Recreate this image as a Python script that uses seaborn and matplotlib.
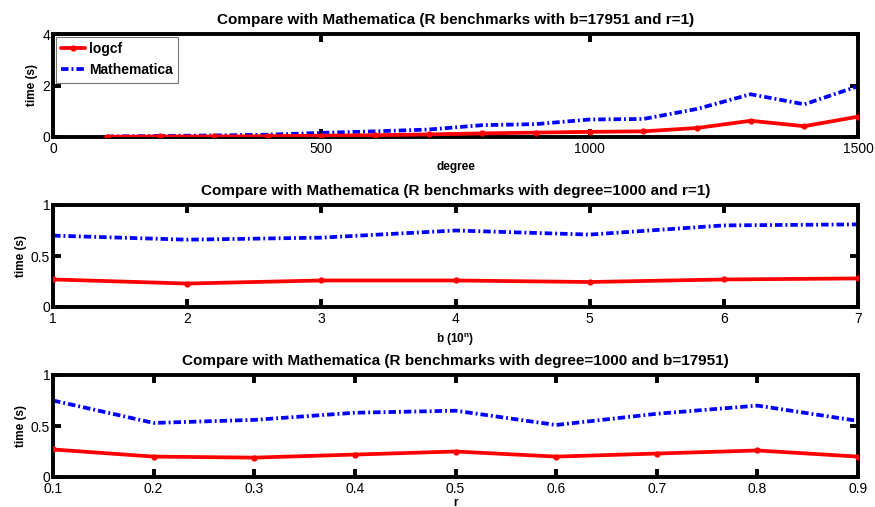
import numpy as np
import pandas as pd
import seaborn as sns
import matplotlib.pyplot as plt

# data
degree = [100, 200, 300, 400, 500, 600, 700, 800, 900, 1000, 1100, 1200, 1300, 1400, 1500]
logcf_deg = [0.01, 0.02, 0.02, 0.03, 0.05, 0.07, 0.10, 0.14, 0.17, 0.20, 0.22, 0.35, 0.63, 0.42, 0.79]
math_deg = [0.02, 0.04, 0.06, 0.09, 0.16, 0.22, 0.29, 0.46, 0.50, 0.68, 0.70, 1.09, 1.66, 1.27, 1.97]

b_exp = [1, 2, 3, 4, 5, 6, 7]
logcf_b = [0.27, 0.23, 0.26, 0.26, 0.245, 0.27, 0.28]
math_b = [0.70, 0.66, 0.68, 0.75, 0.71, 0.80, 0.81]

r_val = [0.1, 0.2, 0.3, 0.4, 0.5, 0.6, 0.7, 0.8, 0.9]
logcf_r = [0.27, 0.20, 0.19, 0.22, 0.25, 0.20, 0.23, 0.26, 0.20]
math_r = [0.75, 0.53, 0.56, 0.63, 0.65, 0.51, 0.62, 0.70, 0.55]

titles = ["Compare with Mathematica (R benchmarks with b=17951 and r=1)",
          "Compare with Mathematica (R benchmarks with degree=1000 and r=1)",
          "Compare with Mathematica (R benchmarks with degree=1000 and b=17951)"]
xlabels = ["degree", "b (10$^{\\mathregular{n}}$)", "r"]

sns.set_style("white")
plt.rcParams['font.family'] = ['Liberation Sans', 'DejaVu Sans']
plt.rcParams['text.color'] = 'black'
plt.rcParams['axes.labelcolor'] = 'black'

fig = plt.figure(figsize=(8.75, 5.07), dpi=100)
W, H = 875.0, 507.0
boxes = [(34, 137), (205, 307), (375, 477)]
left, right = 53, 858

panels = [
    (degree, logcf_deg, math_deg, (0, 1500), (0, 4), [0, 500, 1000, 1500], [0, 2, 4]),
    (b_exp, logcf_b, math_b, (1, 7), (0, 1), b_exp, [0, 0.5, 1]),
    (r_val, logcf_r, math_r, (0.1, 0.9), (0, 1), r_val, [0, 0.5, 1]),
]

for i, (x, y1, y2, xl, yl, xt, yt) in enumerate(panels):
    top, bot = boxes[i]
    ax = fig.add_axes([left / W, 1 - bot / H, (right - left) / W, (bot - top) / H])
    df = pd.DataFrame({"x": x, "logcf": y1, "Mathematica": y2})
    sns.lineplot(data=df, x="x", y="logcf", ax=ax, color="#ff0000", lw=2.7,
                 marker="o", markersize=4.5, markeredgewidth=0, label="logcf", zorder=3)
    sns.lineplot(data=df, x="x", y="Mathematica", ax=ax, color="#0000ff", lw=2.7,
                 dashes=False, label="Mathematica", zorder=2)
    ax.lines[1].set_dashes((2.0, 0.8, 0.5, 0.8))
    ax.set_xlim(*xl)
    ax.set_ylim(*yl)
    ax.set_xticks(xt)
    ax.set_xticklabels([str(v) for v in xt])
    ax.set_yticks(yt)
    ax.set_yticklabels([("%g" % v) for v in yt])
    for s in ax.spines.values():
        s.set_linewidth(2.8)
        s.set_color("black")
        s.set_visible(True)
    ax.tick_params(direction="in", length=5.5, width=2.8, top=True, right=True,
                   bottom=True, left=True, labelsize=10, colors="black")
    ax.tick_params(axis="x", pad=3.5)
    ax.tick_params(axis="y", pad=2)
    ax.set_title(titles[i], fontsize=11, fontweight="bold", pad=7, color="black")
    ax.set_xlabel(xlabels[i], fontsize=8.5, fontweight="bold", labelpad=(1 if i == 2 else 4))
    ax.set_ylabel("time (s)", fontsize=8.5, fontweight="bold", labelpad=3)
    if i == 0:
        leg = ax.legend(loc="upper left", prop={"weight": "bold", "size": 10},
                        frameon=True, fancybox=False, borderpad=0.4, labelspacing=0.5,
                        handlelength=1.7, handletextpad=0.3, borderaxespad=0.2)
        leg.get_frame().set_edgecolor("#555555")
        leg.get_frame().set_linewidth(0.8)
    else:
        ax.get_legend().remove()

fig.savefig("out.png", dpi=100)
